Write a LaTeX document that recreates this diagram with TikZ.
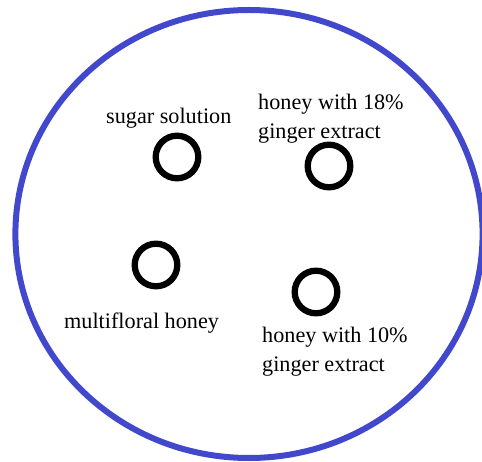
\documentclass[tikz,border=0pt]{standalone}
\usepackage{fontspec}
\setmainfont{Liberation Serif}
\definecolor{dishblue}{RGB}{66,72,204}
\begin{document}
\begin{tikzpicture}[x=1pt,y=1pt,
  dish/.style={draw=dishblue,line width=6pt},
  well/.style={circle,draw=black,line width=6.3pt,minimum size=42.6pt,inner sep=0pt},
  lbl/.style={anchor=north west,inner sep=0pt,align=left,font=\fontsize{22.2}{29}\selectfont}]
\useasboundingbox (0,0) rectangle (482,461);
\clip (0,0) rectangle (482,461);
\fill[white] (0,0) rectangle (482,461);
\coordinate (dishc) at (249,227);
\draw[dish] (dishc) ellipse [x radius=233.6, y radius=224];
\node[well] (sugar) at (177,304) {};
\node[well] (h18) at (329,295) {};
\node[well] (multi) at (156,196) {};
\node[well] (h10) at (316,169) {};
\node[lbl] (lsugar) at (106,353) {sugar solution};
\node[lbl] (l18) at (258,367) {honey with 18\%\\ginger extract};
\node[lbl] (lmulti) at (64,148) {multifloral honey};
\node[lbl] (l10) at (262,134) {honey with 10\%\\ginger extract};
\end{tikzpicture}
\end{document}
